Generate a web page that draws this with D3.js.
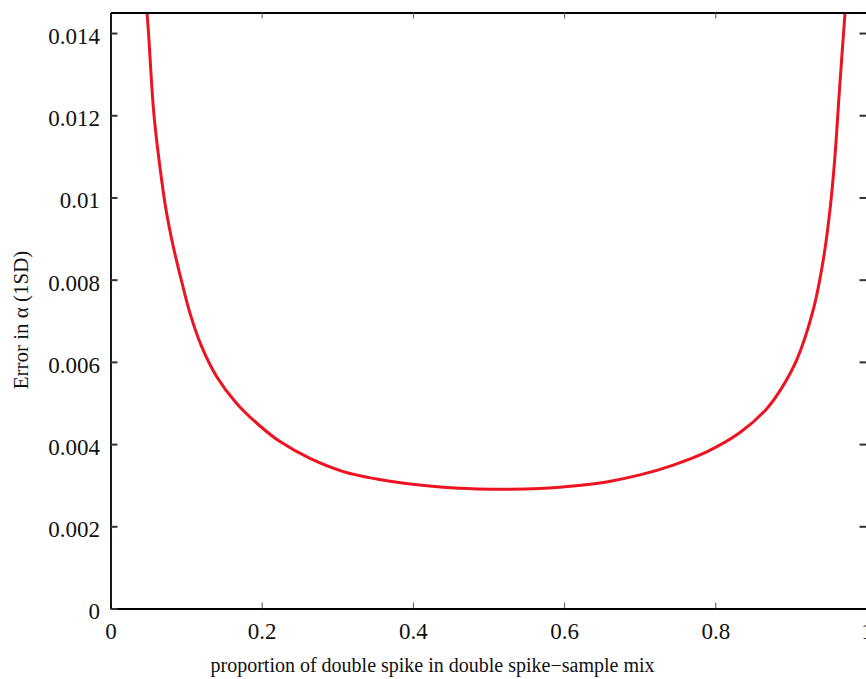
<!DOCTYPE html>
<html>
    <head>
        <meta charset="utf-8">
        <script src="https://d3js.org/d3.v7.min.js"></script>
        <style>
            body { margin: 0; background: #fff; }
            svg { display: block; font-family: "Liberation Serif", serif; }
            .tick text { fill: #111; }
        </style>
    </head>
    <body>
        <svg></svg>
    </body>
    <script>
        // data
        var proportion = [0.0483, 0.0503, 0.0575, 0.0677, 0.0743, 0.0831, 0.0942, 0.1052, 0.1206, 0.1405,
                          0.1669, 0.1978, 0.2242, 0.2639, 0.3079, 0.3521, 0.3962, 0.4402, 0.4844, 0.5284,
                          0.5681, 0.6122, 0.6563, 0.7003, 0.7444, 0.7886, 0.8327, 0.8675, 0.8856, 0.9077,
                          0.9296, 0.9429, 0.9517, 0.9579, 0.9616, 0.9633, 0.9716];
        var errorAlpha = [0.01450, 0.01400, 0.01201, 0.01042, 0.00961, 0.00880, 0.00795, 0.00718, 0.00637, 0.00564,
                          0.00499, 0.00444, 0.00406, 0.00365, 0.00333, 0.00315, 0.00303, 0.00295, 0.00291, 0.00290,
                          0.00292, 0.00298, 0.00308, 0.00325, 0.00349, 0.00381, 0.00428, 0.00485, 0.00530, 0.00605,
                          0.00727, 0.00849, 0.00970, 0.01091, 0.01188, 0.01237, 0.01450];
        var xTicks = [0, 0.2, 0.4, 0.6, 0.8, 1];
        var yTicks = [0, 0.002, 0.004, 0.006, 0.008, 0.01, 0.012, 0.014];
        var xLabel = 'proportion of double spike in double spike\u2212sample mix';
        var yLabel = 'Error in \u03b1 (1SD)';

        // size
        var W = 866, H = 679;
        var margin = {top: 12.5, left: 110.5},
            width = 756,
            height = 596;

        var xScale = d3.scaleLinear().domain([0, 1]).range([0, width]);
        var yScale = d3.scaleLinear().domain([0, 0.0145]).range([height, 0]);

        var svg = d3.select('svg')
            .attr('width', W)
            .attr('height', H);

        var g = svg.append('g')
            .attr('transform', 'translate(' + margin.left + ',' + margin.top + ')');

        var fmt = function (d) { return String(+d.toFixed(3)); };

        // clip for the curve
        svg.append('defs').append('clipPath').attr('id', 'plot')
            .append('rect').attr('width', width).attr('height', height);

        // curve
        var points = proportion.map(function (p, i) { return [p, errorAlpha[i]]; });
        var line = d3.line()
            .x(function (d) { return xScale(d[0]); })
            .y(function (d) { return yScale(d[1]); })
            .curve(d3.curveCatmullRom.alpha(0.5));

        g.append('path')
            .datum(points)
            .attr('clip-path', 'url(#plot)')
            .attr('fill', 'none')
            .attr('stroke', '#ec1420')
            .attr('stroke-width', 3)
            .attr('d', line);

        // axes (ticks pointing in)
        var bottomAxis = g.append('g')
            .attr('transform', 'translate(0,' + height + ')')
            .call(d3.axisBottom(xScale).tickValues(xTicks).tickFormat(fmt)
                .tickSizeInner(-6).tickSizeOuter(0).tickPadding(14));
        bottomAxis.selectAll('.tick line').attr('stroke', '#555').attr('stroke-width', 1);
        bottomAxis.selectAll('text').style('font-size', '23px').attr('dy', '0.71em');

        var topAxis = g.append('g')
            .call(d3.axisTop(xScale).tickValues(xTicks.slice(1, -1)).tickFormat('')
                .tickSizeInner(-6).tickSizeOuter(0));
        topAxis.selectAll('.tick line').attr('stroke', '#555').attr('stroke-width', 1);

        var leftAxis = g.append('g')
            .call(d3.axisLeft(yScale).tickValues(yTicks).tickFormat(fmt)
                .tickSizeInner(-7).tickSizeOuter(0).tickPadding(10.5));
        leftAxis.selectAll('.tick line').attr('stroke', '#333').attr('stroke-width', 2);
        leftAxis.selectAll('text').style('font-size', '23px').attr('dy', '0.45em');

        var rightAxis = g.append('g')
            .attr('transform', 'translate(' + width + ',0)')
            .call(d3.axisRight(yScale).tickValues(yTicks.slice(1)).tickFormat('')
                .tickSizeInner(-7).tickSizeOuter(0));
        rightAxis.selectAll('.tick line').attr('stroke', '#333').attr('stroke-width', 2);

        [bottomAxis, topAxis, leftAxis, rightAxis].forEach(function (a) {
            a.select('.domain').attr('stroke', '#000').attr('stroke-width', 1.8);
            a.attr('font-family', null);
        });

        // labels
        svg.append('text')
            .attr('x', 432.5)
            .attr('y', 672)
            .attr('text-anchor', 'middle')
            .style('font-size', '20px')
            .attr('fill', '#111')
            .text(xLabel);

        svg.append('text')
            .attr('transform', 'translate(27.5,320) rotate(-90)')
            .attr('text-anchor', 'middle')
            .style('font-size', '21px')
            .attr('fill', '#111')
            .text(yLabel);
    </script>
</html>
